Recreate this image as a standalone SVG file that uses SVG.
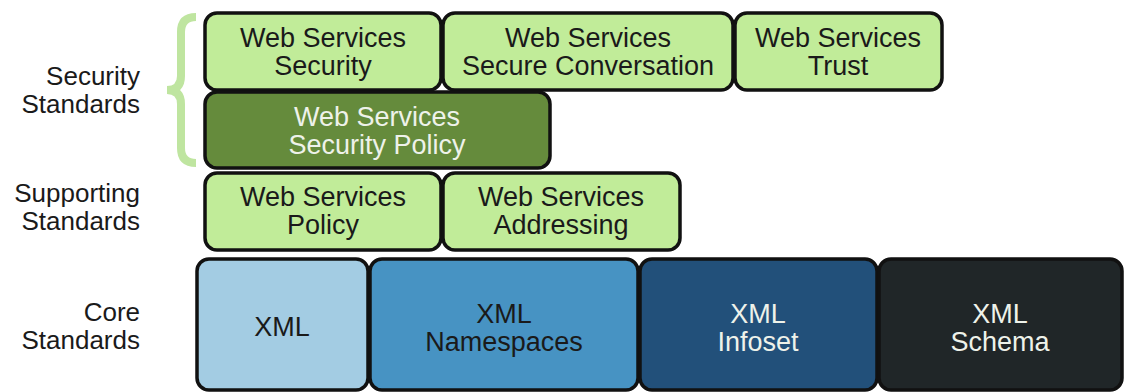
<svg xmlns="http://www.w3.org/2000/svg" width="1124" height="392" viewBox="0 0 1124 392">
<style>
.box{stroke:#111;stroke-width:3.5}
.lg{fill:#c1ec99}
.dg{fill:#658b3c}
.t{font-family:"Liberation Sans",Arial,sans-serif;font-size:27px;text-anchor:middle}
.dk{fill:#1a1a1a}
.wt{fill:#eef2ea}
.lbl{font-family:"Liberation Sans",Arial,sans-serif;font-size:26px;text-anchor:end;fill:#1a1a1a}
</style>
<rect width="1124" height="392" fill="#fff"/>
<g id="labels">
<text class="lbl" x="140" y="85">Security</text>
<text class="lbl" x="140" y="113">Standards</text>
<text class="lbl" x="140" y="202">Supporting</text>
<text class="lbl" x="140" y="230">Standards</text>
<text class="lbl" x="140" y="321">Core</text>
<text class="lbl" x="140" y="349">Standards</text>
</g>
<g id="brace">
<path d="M196,17 Q181,17 181,32 L181,76 Q181,90 167,90 Q181,90 181,104 L181,148 Q181,163 196,163" fill="none" stroke="#bfe5a0" stroke-width="8"/>
</g>
<g id="ws-security">
<rect class="box lg" x="205" y="13" width="236" height="77" rx="12"/>
<text class="t dk" x="323" y="47">Web Services</text>
<text class="t dk" x="323" y="75">Security</text>
</g>
<g id="ws-secure-conversation">
<rect class="box lg" x="443" y="13" width="290" height="77" rx="12"/>
<text class="t dk" x="588" y="47">Web Services</text>
<text class="t dk" x="588" y="75">Secure Conversation</text>
</g>
<g id="ws-trust">
<rect class="box lg" x="735" y="13" width="207" height="77" rx="12"/>
<text class="t dk" x="838" y="47">Web Services</text>
<text class="t dk" x="838" y="75">Trust</text>
</g>
<g id="ws-security-policy">
<rect class="box dg" x="205" y="92" width="345" height="76" rx="12"/>
<text class="t wt" x="377" y="126">Web Services</text>
<text class="t wt" x="377" y="154">Security Policy</text>
</g>
<g id="ws-policy">
<rect class="box lg" x="205" y="173" width="236" height="77" rx="12"/>
<text class="t dk" x="323" y="206">Web Services</text>
<text class="t dk" x="323" y="234">Policy</text>
</g>
<g id="ws-addressing">
<rect class="box lg" x="443" y="173" width="237" height="77" rx="12"/>
<text class="t dk" x="561" y="206">Web Services</text>
<text class="t dk" x="561" y="234">Addressing</text>
</g>
<g id="xml">
<rect class="box" fill="#a3cce3" x="197" y="259" width="171" height="131" rx="12"/>
<text class="t dk" x="282" y="336">XML</text>
</g>
<g id="xml-namespaces">
<rect class="box" fill="#4793c3" x="370" y="259" width="268" height="131" rx="12"/>
<text class="t dk" x="504" y="323">XML</text>
<text class="t dk" x="504" y="351">Namespaces</text>
</g>
<g id="xml-infoset">
<rect class="box" fill="#22507a" x="640" y="259" width="237" height="131" rx="12"/>
<text class="t wt" x="758" y="323">XML</text>
<text class="t wt" x="758" y="351">Infoset</text>
</g>
<g id="xml-schema">
<rect class="box" fill="#202628" x="879" y="259" width="243" height="131" rx="12"/>
<text class="t wt" x="1000" y="323">XML</text>
<text class="t wt" x="1000" y="351">Schema</text>
</g>
<g id="connectors"></g>
</svg>
